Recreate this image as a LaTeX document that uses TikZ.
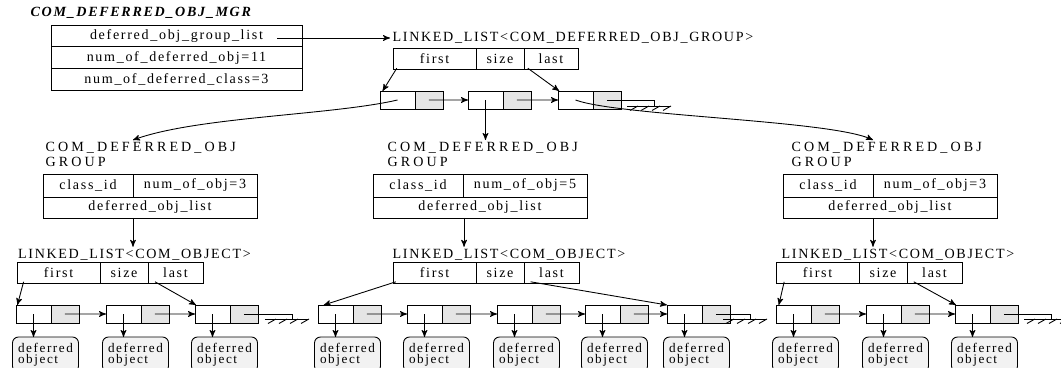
\documentclass[tikz,border=0pt]{standalone}
\usepackage{fontspec}
\newfontfamily\figfont[LetterSpace=12]{Liberation Serif}
\newfontfamily\grpfont[LetterSpace=22]{Liberation Serif}
\usepackage{tikz}
\usetikzlibrary{arrows,positioning}

% ground mark at the end of a list
\newcommand{\nilground}[1]{%
  \draw (#1) ++(-2.7,0) -- ++(4.3,0);
  \foreach \k in {0,1,2,3} \draw (#1) ++(-1.6+1.1*\k,0) -- ++(-0.8,-0.45);}

\begin{document}
\begin{tikzpicture}[scale=0.2, >=stealth', line width=0.5pt]
\tikzstyle{every node}+=[inner sep=1.5pt, outer sep=0pt, font=\figfont\fontsize{8}{9.5}\selectfont]
\tikzstyle{field}=[draw, minimum height=0.42cm, inner sep=0pt]
\tikzstyle{cell}=[draw, minimum height=0.36cm, minimum width=0.7cm, inner sep=0pt]
\tikzstyle{ptr}=[cell, fill=gray!20, minimum width=0.56cm]
\tikzstyle{grouplabel}=[anchor=north west, align=left, font=\grpfont\fontsize{8}{8.5}\selectfont]
\tikzstyle{obj}=[draw, rounded corners=3.4pt, fill=gray!10, minimum width=1.32cm, minimum height=0.7cm, align=left, inner sep=2pt, font=\figfont\fontsize{7.5}{6.5}\selectfont]
\useasboundingbox (0,0) rectangle (106.1,-36.7);

% manager
\node[anchor=west, font=\figfont\fontsize{8}{9.5}\selectfont\bfseries\itshape] (mgr) at (2.8,-1.3) {COM\_DEFERRED\_OBJ\_MGR};
\node[field, minimum width=5.02cm, minimum height=0.434cm, anchor=north west] (mgrlist) at (5.1,-2.5) {deferred\_obj\_group\_list};
\node[field, minimum width=5.02cm, minimum height=0.434cm, below=0pt of mgrlist] (mgrnum) {num\_of\_deferred\_obj=11};
\node[field, minimum width=5.02cm, minimum height=0.434cm, below=0pt of mgrnum] (mgrcls) {num\_of\_deferred\_class=3};

% list of groups
\node[anchor=west] (grplist) at (39.0,-3.8) {LINKED\_LIST<COM\_DEFERRED\_OBJ\_GROUP>};
\coordinate (mgrptr) at (27.7,-3.8);
\draw[->] (mgrptr) -- (grplist.west);
\node[field, minimum width=1.66cm, anchor=north west] (tf) at (39.3,-4.8) {first};
\node[field, minimum width=0.96cm, right=0pt of tf] (ts) {size};
\node[field, minimum width=1.08cm, right=0pt of ts] (tl) {last};
\foreach \n/\x in {t1/38.0, t2/46.8, t3/55.8} {
  \node[cell, anchor=west] (\n) at (\x,-10.0) {};
  \node[ptr, right=0pt of \n] (\n-g) {};
}
\draw[->] (t1-g.center) -- (t2.west);
\draw[->] (t2-g.center) -- (t3.west);
\coordinate (tnil) at (65.4,-10.6);
\draw (t3-g.center) -| (tnil);
\nilground{tnil}
\draw[->] ([xshift=10.8pt,yshift=2.3pt]tf.south west) -- ([xshift=7.4pt]t1.north west);
\draw[->] ([xshift=10.8pt,yshift=2.3pt]tl.south west) -- ([xshift=3.4pt]t3.north west);

% groups
\node[grouplabel] (g1name) at (4.3,-14.0) {COM\_DEFERRED\_OBJ\\GROUP};
\node[grouplabel] (g2name) at (38.5,-14.0) {COM\_DEFERRED\_OBJ\\GROUP};
\node[grouplabel] (g3name) at (78.9,-14.0) {COM\_DEFERRED\_OBJ\\GROUP};
\foreach \g/\x/\k in {g1/4.3/3, g2/37.3/5, g3/78.3/3} {
  \node[field, minimum width=1.8cm, minimum height=0.46cm, anchor=north west] (\g id) at (\x,-17.4) {class\_id};
  \node[field, minimum width=2.48cm, minimum height=0.46cm, right=0pt of \g id] (\g num) {num\_of\_obj=\k};
  \node[field, minimum width=4.28cm, anchor=north west] (\g list) at (\g id.south west) {deferred\_obj\_list};
}
\draw[->] (t1.center) to[out=193, in=20, looseness=0.65] (g1name.north -| g1id.east);
\draw[->] (t2.center) -- (t2.center |- g2name.north);
\draw[->] (t3.center) to[out=-20, in=155, looseness=0.4] (g3name.north -| g3id.east);

% lists of objects
\foreach \l/\x/\y in {a/1.7/1.55, b/39.3/39.0, c/77.6/77.9} {
  \node[anchor=west] (\l name) at (\y,-25.5) {LINKED\_LIST<COM\_OBJECT>};
  \node[field, minimum width=1.66cm, anchor=north west] (\l f) at (\x,-26.2) {first};
  \node[field, minimum width=0.96cm, right=0pt of \l f] (\l s) {size};
  \node[field, minimum width=1.1cm, right=0pt of \l s] (\l l) {last};
}
\draw[->] (g1list.south -| g1id.east) -- (aname.north -| g1id.east);
\draw[->] ([xshift=3pt]g2list.south -| g2id.east) -- ([xshift=3pt]bname.north -| g2id.east);
\draw[->] (g3list.south -| g3id.east) -- (cname.north -| g3id.east);

\foreach \n/\x in {a1/1.6, a2/10.6, a3/19.5, b1/31.8, b2/40.7, b3/49.7, b4/58.5, b5/66.7, c1/77.6, c2/86.6, c3/95.5} {
  \node[cell, anchor=west] (\n) at (\x,-31.4) {};
  \node[ptr, right=0pt of \n] (\n-g) {};
  \node[obj, anchor=north] (\n-o) at (\x+2.95,-33.7) {deferred\\object};
  \draw[->] (\n.center) -- (\n-o.north -| \n.center);
}
\foreach \u/\v in {a1/a2, a2/a3, b1/b2, b2/b3, b3/b4, b4/b5, c1/c2, c2/c3}
  \draw[->] (\u-g.center) -- (\v.west);

\coordinate (anil) at (29.2,-31.9);
\coordinate (bnil) at (75.0,-31.9);
\coordinate (cnil) at (105.1,-31.9);
\draw (a3-g.center) -| (anil);
\draw (b5-g.center) -| (bnil);
\draw (c3-g.center) -| (cnil);
\nilground{anil}
\nilground{bnil}
\nilground{cnil}

\draw[->] ([xshift=18.8pt,yshift=3.4pt]af.south west) -- ([xshift=4pt]a1.north west);
\draw[->] ([xshift=19.9pt,yshift=3.4pt]al.south west) -- ([xshift=2.8pt]a3.north west);
\draw[->] ([xshift=8pt,yshift=3.4pt]bf.south west) -- ([xshift=16.5pt]b1.north west);
\draw[->] ([xshift=18.8pt,yshift=3.4pt]bl.south west) -- (b5.north west);
\draw[->] ([xshift=23.3pt,yshift=3.4pt]cf.south west) -- ([xshift=8pt]c1.north west);
\draw[->] ([xshift=19.3pt,yshift=3.4pt]cl.south west) -- ([xshift=2.8pt]c3.north west);
\end{tikzpicture}
\end{document}
